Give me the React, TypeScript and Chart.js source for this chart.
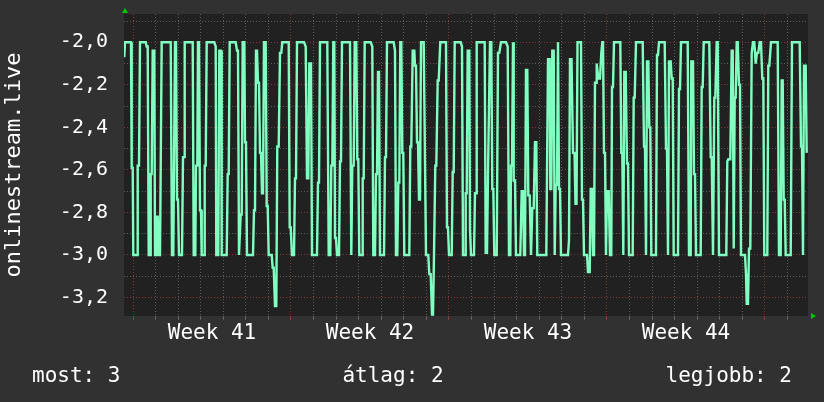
import React, { useEffect, useRef } from "react";
import { Chart, registerables } from "chart.js";

Chart.register(...registerables);

// ---- data (x = RRA row index, one row ~ 64 min; y = value) ----
const SERIES_NAME = "onlinestream.live";
const WEEK_LABELS = ["Week 41", "Week 42", "Week 43", "Week 44"];
const LEGEND_ITEMS = ["most: 3", "átlag: 2", "legjobb: 2"];
const Y_TICKS = [-3.2, -3.1, -3.0, -2.9, -2.8, -2.7, -2.6, -2.5, -2.4, -2.3, -2.2, -2.1, -2.0, -1.9];
const Y_MIN = -3.287;
const Y_MAX = -1.867;
const X_MIN = 0;
const X_MAX = 684;
const FIRST_DAY_ROW = 9; // row of the first day boundary (start of week 41)
const ROWS_PER_DAY = 22.571;

const ROWS: number[] = [
  0.3, 1, 7, 7.7, 8.7, 9.3, 13.3, 13.7, 15, 16, 21.7, 22.7, 23.7, 24.7, 26, 26.7, 27.7, 28.7, 30.3, 31, 32, 32.7, 33.7, 34.7, 36, 37.7, 46.7, 48, 49.3, 51, 52, 53, 54, 55, 58, 59, 60, 60.7, 68.7, 69.7, 71.3, 72, 73.3, 74, 75, 76, 77, 77.7, 80, 80.7, 81.7, 82.7, 90.3, 91.7, 92.3, 94.3, 95.3, 97, 97.7, 102.7, 103.7, 104.7, 105.7,
  111.7, 113, 114, 115, 115.7, 116.7, 117.7, 118.7, 120.3, 121, 122, 123, 129, 130, 131, 132, 133, 134, 135, 136, 137, 138, 139, 140, 141.7, 142.7, 143.7, 144.7, 147.7, 148.7, 149.7, 151, 152.3, 153.3, 154.7, 156, 157.3, 158.3, 164.7, 165.7, 166.7, 168, 170, 171, 172, 173, 180, 181.7, 183, 184.3, 185.3, 187, 188, 193, 194, 195, 196, 203.3, 204.7, 206.3, 207.3, 208.3, 209.3, 210.3, 211, 212, 213, 215, 216, 217, 218,
  226, 227.3, 228.3, 229.7, 230.7, 232.3, 233.3, 234.3, 235.3, 238, 238.7, 239.7, 240.7, 246.7, 248.3, 249.3, 251, 252, 253, 254, 255, 256, 260, 261, 262, 263, 269.7, 271, 272, 273.3, 274.3, 275.3, 276.3, 277.3, 278.3, 279.3, 280.3, 285.3, 286.3, 287.3, 288.7, 290.3, 291, 292, 293, 294, 295, 296, 297, 299.7, 302, 304.3, 305.3, 306.7, 308, 309, 310, 311.3, 312.3, 313.7, 314.7, 316.3, 322, 323, 324, 325, 327.7, 328.7, 329.7, 330.7,
  336.7, 338, 339, 341, 341.7, 342.7, 343.7, 345.3, 346, 347, 350, 351, 352, 352.7, 360.7, 361.7, 363, 364, 365, 366, 367.3, 368.3, 369.3, 370.3, 372.7, 374, 375.3, 377, 382, 383.7, 385, 386.3, 387, 388, 389, 389.7, 391, 392, 396.3, 397.7, 399, 400, 401, 402, 403.3, 404.3, 405.7, 407, 408.3, 409.7, 411, 412.3, 413.3, 422.3, 424, 425.7, 426.3, 427.3, 428.3, 429.7, 430.7, 431.7, 433, 434, 435, 436, 437, 444, 445, 446, 447.5, 449, 450.5, 451.5, 452.5, 453.5,
  457, 458, 459, 460, 463, 464, 465.7, 466.7, 468, 469, 470, 471, 472, 472.7, 474.3, 476, 477.3, 478.3, 479, 480, 481, 482, 483, 484.7, 486, 487.3, 488, 489, 490, 496.3, 497.3, 498.3, 499.3, 500.3, 501.7, 503, 504, 505, 508.7, 509.7, 510.7, 512, 518.7, 520, 521, 522, 523, 524.3, 525.3, 526.3, 527.3, 532, 533, 534, 535, 540.7, 542, 543, 544, 545, 546.7, 547.7, 548.7, 549.7, 554, 555, 556, 557,
  563.7, 565, 566.7, 567.3, 569, 570, 571, 572, 576.7, 577.7, 578.7, 579.7, 585.3, 586.7, 587.7, 589, 590.3, 591.3, 592.7, 593.7, 595, 602.3, 603.3, 604.3, 606.3, 607.7, 608.7, 609.7, 610.7, 611.7, 612.7, 613.7, 615, 616, 617, 621, 622, 622.7, 624, 625, 626.3, 627.7, 629, 630.3, 631.7, 633, 634.3, 635.7, 637, 638.3, 639.3, 640.3, 643.3, 644.3, 645.3, 647, 653.7, 655, 656.7, 657.7, 658.7, 659.7, 660.7, 661.7, 666.7, 668, 675.7, 677, 678, 679, 680, 681.7, 682.7,
];

const VALUES: number[] = [
  -2.07, -2, -2, -2.59, -2.59, -3, -3, -2.58, -2.58, -2, -2, -2.02, -2.02, -3, -3, -2.62, -2.62, -2.04, -2.04, -3, -3, -2.82, -2.82, -3, -3, -2, -2, -3, -3, -2, -2, -2.74, -2.74, -3, -3, -2.54, -2.54, -2, -2, -3, -3, -2.58, -2.58, -2, -2, -2.79, -2.79, -3, -3, -2.58, -2.58, -2, -2, -2.02, -3, -3, -2.04, -2.04, -3, -3, -2.62, -2.62, -2,
  -2, -2.04, -2.04, -3, -3, -2.81, -2.81, -2, -2, -2.47, -2.47, -3, -3, -2.79, -2.79, -2.04, -2.04, -2.19, -2.19, -2.52, -2.52, -2.71, -2.71, -2, -2, -2.77, -2.77, -3, -3, -3.06, -3.06, -3.24, -3.24, -2.49, -2.49, -2.05, -2.05, -2, -2, -2.87, -2.87, -3, -3, -2.64, -2.64, -2, -2, -2.02, -2.64, -2.64, -2.1, -2.1, -3, -3, -2.66, -2.66, -2, -2, -3, -3, -2.58, -2.58, -2, -2, -2.92, -2.92, -3, -3, -2.56, -2.56, -2,
  -2, -3, -2.58, -2.58, -2, -2, -2.55, -2.55, -3, -3, -2.64, -2.64, -2, -2, -2.02, -3, -3, -2.62, -2.62, -2.14, -2.14, -3, -3, -2.54, -2.54, -2, -2, -2.04, -3, -3, -2.66, -2.66, -2, -2, -2.52, -2.52, -3, -3, -2.49, -2.49, -2.04, -2.04, -2.11, -2.11, -2.47, -2.47, -2.74, -2.74, -2, -2, -3, -3, -3.09, -3.09, -3.28, -3.28, -3, -2.58, -2.58, -2.18, -2.18, -2, -2, -2.87, -2.87, -3, -3, -2.61, -2.61, -2,
  -2, -2.02, -3, -3, -2.71, -2.71, -2.04, -2.04, -2.88, -3, -3, -2.71, -2.71, -2, -2, -2.99, -2.99, -2.62, -2.62, -2, -2, -2.69, -2.69, -3, -3, -2.05, -2.05, -2, -2, -2.02, -3, -3, -2.58, -2.58, -2, -2.65, -2.65, -3, -3, -2.7, -2.7, -3, -3, -2.13, -2.13, -2.72, -2.72, -3, -2.78, -2.78, -2.47, -2.47, -3, -3, -2.08, -2.08, -2.69, -2.69, -2.04, -2.04, -3, -2.67, -2.67, -2, -2.69, -2.69, -3, -3, -2.93, -2.08, -2.08, -2.52, -2.52, -2.76, -2.76, -2,
  -2, -2.74, -2.74, -3, -3, -3.08, -3.08, -2.69, -2.69, -3, -3, -2.19, -2.19, -2.1, -2.17, -2.17, -2.05, -2, -2, -2.52, -2.52, -3, -2.7, -2.7, -3, -3, -2.21, -2.21, -2, -2, -2.52, -2.52, -3, -2.14, -2.14, -2.57, -2.57, -3, -3, -2.26, -2.26, -2, -2, -2.49, -2.49, -3, -2.09, -2.09, -2.4, -2.4, -3, -3, -2.06, -2.06, -2, -2, -2.5, -2.5, -3, -2.09, -2.09, -2.17, -2.17, -3, -3, -2.22, -2.22, -2,
  -2, -3, -3, -2.09, -2.09, -2.62, -2.62, -3, -3, -2.21, -2.21, -2, -2, -2.54, -2.54, -3, -2.26, -2.26, -2, -2, -3, -3, -2.56, -2.55, -2.55, -2.04, -2.04, -2.97, -2.26, -2.26, -2, -2, -2.2, -2.2, -3, -3, -3.09, -3.23, -3.23, -2.97, -2.97, -2.05, -2, -2, -2.1, -2.05, -2.05, -2, -2, -2.17, -2.17, -3, -3, -2.11, -2.11, -2, -2, -3, -3, -2.18, -2.18, -2.74, -2.74, -3, -3, -2, -2, -2.49, -2.49, -3, -2.11, -2.11, -2.52,
];

// ---- styles ----
const FONT = "'DejaVu Sans Mono', monospace";
const BG = "#313131";
const PLOT_BG = "#212121";
const LINE_COLOR = "#80ffc0";
const TEXT_COLOR = "#ffffff";
const MINOR_GRID = "rgba(140,140,140,0.55)";
const MAJOR_GRID = "rgba(190,70,70,0.6)";
const ARROW_COLOR = "#00c800";
const NONE = "rgba(0,0,0,0)";

const HALF_DAY = ROWS_PER_DAY / 2;

export default function App() {
  const canvasRef = useRef<HTMLCanvasElement | null>(null);

  useEffect(() => {
    document.body.style.margin = "0";
    const canvas = canvasRef.current;
    if (!canvas) return;

    const halfIndex = (v: number) => Math.round((v - FIRST_DAY_ROW) / HALF_DAY);

    const decor = {
      id: "decor",
      beforeDraw(chart: any) {
        const { ctx, chartArea } = chart;
        ctx.save();
        ctx.fillStyle = BG;
        ctx.fillRect(0, 0, chart.width, chart.height);
        ctx.fillStyle = PLOT_BG;
        ctx.fillRect(chartArea.left, chartArea.top, chartArea.right - chartArea.left, chartArea.bottom - chartArea.top);
        ctx.restore();
      },
      afterDraw(chart: any) {
        const { ctx, chartArea } = chart;
        ctx.save();
        // arrows
        ctx.fillStyle = ARROW_COLOR;
        const l = chartArea.left + 1;
        ctx.beginPath();
        ctx.moveTo(l - 3, chartArea.top - 1);
        ctx.lineTo(l + 3, chartArea.top - 1);
        ctx.lineTo(l, chartArea.top - 6);
        ctx.closePath();
        ctx.fill();
        const b = chartArea.bottom;
        ctx.beginPath();
        ctx.moveTo(chartArea.right + 3, b - 3);
        ctx.lineTo(chartArea.right + 3, b + 3);
        ctx.lineTo(chartArea.right + 8, b);
        ctx.closePath();
        ctx.fill();
        // legend
        ctx.fillStyle = TEXT_COLOR;
        ctx.font = `21px ${FONT}`;
        ctx.textBaseline = "alphabetic";
        const y = 382;
        ctx.textAlign = "left";
        ctx.fillText(LEGEND_ITEMS[0], 32, y);
        ctx.textAlign = "center";
        ctx.fillText(LEGEND_ITEMS[1], 393, y);
        ctx.textAlign = "right";
        ctx.fillText(LEGEND_ITEMS[2], 792, y);
        ctx.restore();
      },
    };

    const chart = new Chart(canvas, {
      type: "line",
      data: {
        datasets: [
          {
            label: SERIES_NAME,
            data: ROWS.map((r, i) => ({ x: r, y: VALUES[i] })),
            borderColor: LINE_COLOR,
            borderWidth: 2.4,
            pointRadius: 0,
            fill: false,
            tension: 0,
          },
        ],
      },
      options: {
        animation: false,
        responsive: false,
        maintainAspectRatio: false,
        layout: { padding: { left: 0, top: 14, right: 16, bottom: 0 } },
        plugins: { legend: { display: false }, tooltip: { enabled: false } },
        scales: {
          x: {
            type: "linear",
            min: X_MIN,
            max: X_MAX,
            afterBuildTicks: (scale: any) => {
              const ticks = [];
              for (let j = 0; FIRST_DAY_ROW + j * HALF_DAY <= X_MAX; j++) {
                ticks.push({ value: FIRST_DAY_ROW + j * HALF_DAY });
              }
              scale.ticks = ticks;
            },
            afterFit: (scale: any) => {
              scale.height = 86;
            },
            ticks: {
              autoSkip: false,
              maxRotation: 0,
              minRotation: 0,
              padding: 1,
              color: TEXT_COLOR,
              font: { family: FONT, size: 21 },
              callback: (v: any) => {
                const j = halfIndex(Number(v));
                if (j % 14 === 7) return WEEK_LABELS[(j - 7) / 14] ?? "";
                return "";
              },
            },
            grid: {
              drawTicks: true,
              tickLength: 4,
              lineWidth: 1,
              color: (ctx: any) => {
                const j = halfIndex(ctx.tick ? ctx.tick.value : 0);
                if (j % 2 !== 0) return NONE;
                return j % 14 === 0 ? MAJOR_GRID : MINOR_GRID;
              },
              tickColor: (ctx: any) => {
                const j = halfIndex(ctx.tick ? ctx.tick.value : 0);
                if (j % 2 !== 0) return NONE;
                return j % 14 === 0 ? MAJOR_GRID : MINOR_GRID;
              },
              tickBorderDash: [],
            },
            border: { display: false, dash: [1, 2] },
          },
          y: {
            type: "linear",
            min: Y_MIN,
            max: Y_MAX,
            afterBuildTicks: (scale: any) => {
              scale.ticks = Y_TICKS.map((v) => ({ value: v }));
            },
            afterFit: (scale: any) => {
              scale.width = 124;
            },
            title: {
              display: true,
              text: SERIES_NAME,
              color: TEXT_COLOR,
              font: { family: FONT, size: 22 },
              padding: { top: 1, bottom: 0 },
            },
            ticks: {
              autoSkip: false,
              padding: 0,
              color: TEXT_COLOR,
              font: { family: FONT, size: 20 },
              callback: (v: any) => {
                const n = Math.round(Number(v) * 10);
                if (Math.abs(n) % 2 !== 0) return "";
                return (n / 10).toFixed(1).replace(".", ",");
              },
            },
            grid: {
              drawTicks: true,
              tickLength: 16,
              tickColor: NONE,
              lineWidth: 1,
              color: (ctx: any) => {
                const n = Math.round((ctx.tick ? ctx.tick.value : 0) * 10);
                return Math.abs(n) % 2 === 0 ? MAJOR_GRID : MINOR_GRID;
              },
            },
            border: { display: false, dash: [1, 2] },
          },
        },
      },
      plugins: [decor],
    } as any);

    return () => chart.destroy();
  }, []);

  return (
    <div style={{ position: "absolute", left: 0, top: 0, width: 824, height: 402 }}>
      <canvas ref={canvasRef} width={824} height={402} style={{ display: "block" }} />
    </div>
  );
}
